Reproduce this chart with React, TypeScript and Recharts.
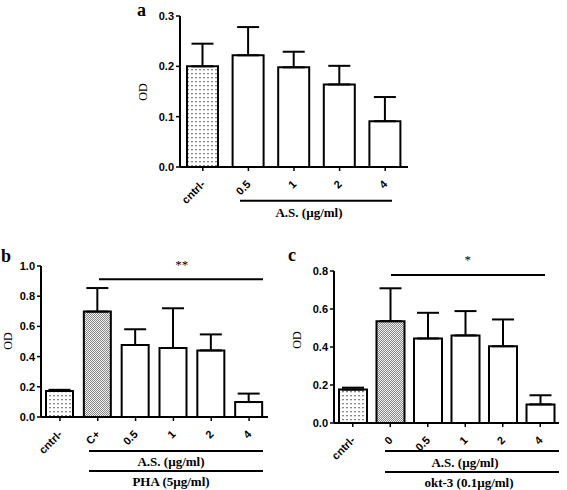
import { Bar, BarChart, Cell, ErrorBar, XAxis, YAxis } from 'recharts';

// panel a
const catsA = ['cntrl-', '0.5', '1', '2', '4'];
const meanA = [0.2, 0.222, 0.198, 0.164, 0.091];
const semA = [0.045, 0.056, 0.031, 0.037, 0.048];
const fillA = ['dots', 'none', 'none', 'none', 'none'];
const ticksA = [0, 0.1, 0.2, 0.3];

// panel b
const catsB = ['cntrl-', 'C+', '0.5', '1', '2', '4'];
const meanB = [0.172, 0.698, 0.477, 0.457, 0.441, 0.099];
const semB = [0.008, 0.156, 0.104, 0.263, 0.106, 0.056];
const fillB = ['dots', 'checker', 'none', 'none', 'none', 'none'];
const ticksB = [0, 0.2, 0.4, 0.6, 0.8, 1.0];

// panel c
const catsC = ['cntrl-', '0', '0.5', '1', '2', '4'];
const meanC = [0.176, 0.536, 0.445, 0.461, 0.404, 0.098];
const semC = [0.01, 0.173, 0.135, 0.128, 0.141, 0.048];
const fillC = ['dots', 'checker', 'none', 'none', 'none', 'none'];
const ticksC = [0, 0.2, 0.4, 0.6, 0.8];

const SANS = '"Liberation Sans", Arial, sans-serif';
const SERIF = '"Liberation Serif", "Times New Roman", serif';

const buildRows = (cats: string[], mean: number[], sem: number[], fills: string[]) =>
  cats.map((c, i) => ({ cat: c, od: mean[i], err: [0, sem[i]], fill: fills[i] }));

const RotTick = (props: any) => {
  const { x, y, payload } = props;
  const tx = x + 3;
  const ty = y + 12;
  return (
    <text x={tx} y={ty} transform={`rotate(-45 ${tx} ${ty})`} textAnchor="end"
      fontFamily={SANS} fontWeight="bold" fontSize={11} fill="#000">
      {payload.value}
    </text>
  );
};

interface PanelProps {
  id: string;
  rows: { cat: string; od: number; err: number[]; fill: string }[];
  ticks: number[];
  left: number; top: number; width: number; height: number;
  yw: number; xh: number; mt: number; mr: number; barSize: number;
}

function Panel({ id, rows, ticks, left, top, width, height, yw, xh, mt, mr, barSize }: PanelProps) {
  const fillFor = (f: string) => (f === 'none' ? '#fff' : `url(#${f}-${id})`);
  return (
    <div style={{ position: 'absolute', left, top, width, height }}>
      <BarChart width={width} height={height} data={rows} margin={{ top: mt, right: mr, bottom: 0, left: 0 }} barSize={barSize}>
        <defs>
          <pattern id={`dots-${id}`} width={4} height={4} patternUnits="userSpaceOnUse">
            <rect width={4} height={4} fill="#fff" />
            <rect x={1} y={1} width={2} height={1.3} fill="#888" />
          </pattern>
          <pattern id={`checker-${id}`} width={2} height={2} patternUnits="userSpaceOnUse">
            <rect width={2} height={2} fill="#eeeeee" />
            <rect width={1} height={1} fill="#8a8a8a" />
            <rect x={1} y={1} width={1} height={1} fill="#8a8a8a" />
          </pattern>
        </defs>
        <XAxis dataKey="cat" height={xh} tick={<RotTick />} interval={0}
          axisLine={{ stroke: '#000', strokeWidth: 2 }} tickLine={{ stroke: '#000', strokeWidth: 1.5 }} tickSize={4} />
        <YAxis width={yw} domain={[0, ticks[ticks.length - 1]]} ticks={ticks} tickFormatter={(v: number) => v.toFixed(1)}
          axisLine={{ stroke: '#000', strokeWidth: 2 }} tickLine={{ stroke: '#000', strokeWidth: 1.5 }} tickSize={4}
          tick={{ fontFamily: SANS, fontWeight: 'bold', fontSize: 11, fill: '#000' }} />
        <Bar dataKey="od" stroke="#000" strokeWidth={2} isAnimationActive={false}>
          {rows.map((r) => <Cell key={r.cat} fill={fillFor(r.fill)} />)}
          <ErrorBar dataKey="err" direction="y" width={11} stroke="#000" strokeWidth={2} />
        </Bar>
      </BarChart>
    </div>
  );
}

const lbl = { fontFamily: SERIF, fontWeight: 'bold' as const, fontSize: 13, fill: '#000' };

export default function App() {
  return (
    <div style={{ position: 'absolute', left: 0, top: 0, width: 567, height: 490, background: '#fff' }}>
      <Panel id="a" rows={buildRows(catsA, meanA, semA, fillA)} ticks={ticksA}
        left={130} top={0} width={290} height={230} yw={50} xh={63} mt={16} mr={12} barSize={31} />
      <Panel id="b" rows={buildRows(catsB, meanB, semB, fillB)} ticks={ticksB}
        left={0} top={250} width={280} height={240} yw={41} xh={73} mt={16} mr={12} barSize={27} />
      <Panel id="c" rows={buildRows(catsC, meanC, semC, fillC)} ticks={ticksC}
        left={285} top={250} width={282} height={240} yw={49} xh={67} mt={21} mr={8} barSize={28} />
      <svg width={567} height={490} style={{ position: 'absolute', left: 0, top: 0, pointerEvents: 'none' }}>
        {/* panel a */}
        <text x={137} y={16} fontFamily={SERIF} fontWeight="bold" fontSize={18}>a</text>
        <text x={0} y={0} transform="translate(147 92) rotate(-90)" textAnchor="middle" fontFamily={SERIF} fontSize={12}>OD</text>
        <line x1={240} x2={392} y1={200.7} y2={200.7} stroke="#000" strokeWidth={2} />
        <text x={309} y={217} textAnchor="middle" {...lbl}>A.S. (µg/ml)</text>
        {/* panel b */}
        <text x={1} y={262} fontFamily={SERIF} fontWeight="bold" fontSize={18}>b</text>
        <text x={0} y={0} transform="translate(12 341) rotate(-90)" textAnchor="middle" fontFamily={SERIF} fontSize={12}>OD</text>
        <line x1={99} x2={263} y1={279.3} y2={279.3} stroke="#000" strokeWidth={2} />
        <text x={181.7} y={269} textAnchor="middle" fontFamily={SERIF} fontSize={13}>**</text>
        <line x1={89} x2={263} y1={451} y2={451} stroke="#000" strokeWidth={2} />
        <text x={171} y={465.5} textAnchor="middle" {...lbl}>A.S. (µg/ml)</text>
        <line x1={89} x2={263} y1={471} y2={471} stroke="#000" strokeWidth={2} />
        <text x={171} y={485.5} textAnchor="middle" {...lbl}>PHA (5µg/ml)</text>
        {/* panel c */}
        <text x={288} y={261} fontFamily={SERIF} fontWeight="bold" fontSize={18}>c</text>
        <text x={0} y={0} transform="translate(301 340) rotate(-90)" textAnchor="middle" fontFamily={SERIF} fontSize={12}>OD</text>
        <line x1={391} x2={545} y1={275} y2={275} stroke="#000" strokeWidth={2} />
        <text x={467.7} y={264} textAnchor="middle" fontFamily={SERIF} fontSize={13}>*</text>
        <line x1={385} x2={559} y1={451} y2={451} stroke="#000" strokeWidth={2} />
        <text x={465} y={467} textAnchor="middle" {...lbl}>A.S. (µg/ml)</text>
        <line x1={385} x2={559} y1={472} y2={472} stroke="#000" strokeWidth={2} />
        <text x={469} y={486.5} textAnchor="middle" {...lbl}>okt-3 (0.1µg/ml)</text>
      </svg>
    </div>
  );
}
